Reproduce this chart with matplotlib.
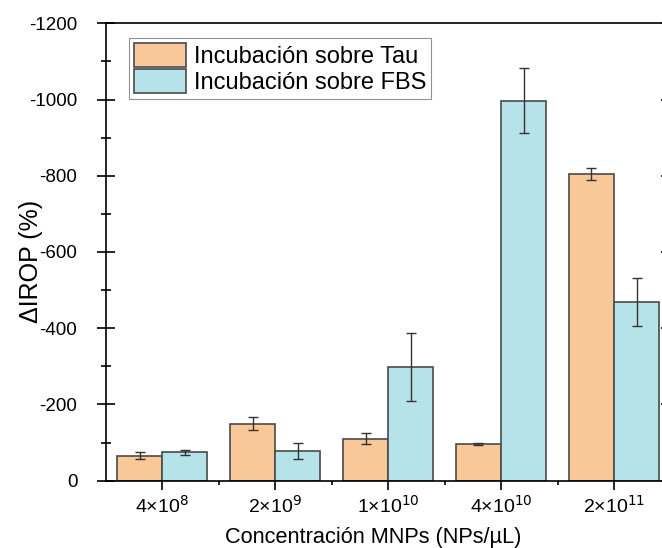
import matplotlib
matplotlib.use("Agg")
import matplotlib.pyplot as plt
import numpy as np
from matplotlib.ticker import MultipleLocator, FixedLocator

plt.rcParams['font.family'] = ['Liberation Sans', 'DejaVu Sans']
plt.rcParams['axes.unicode_minus'] = False

categories = ["4×10$^{8}$", "2×10$^{9}$", "1×10$^{10}$", "4×10$^{10}$", "2×10$^{11}$"]
tau_values = [-66, -150, -110, -97, -804]
tau_errors = [10, 16, 14, 3, 16]
fbs_values = [-74, -78, -298, -997, -470]
fbs_errors = [7, 21, 89, 85, 63]

series_labels = ["Incubación sobre Tau", "Incubación sobre FBS"]
colors = ["#F9C898", "#B6E3E9"]
edge = "#4a4a4a"

fig = plt.figure(figsize=(6.62, 5.48), dpi=100)
ax = fig.add_axes([0.1598, 0.1228, 0.8530, 0.8347])

x = np.arange(len(categories))
w = 0.4
ekw = dict(ecolor="#333333", elinewidth=1.0, capthick=1.0, capsize=3.3)
ax.bar(x - w/2, tau_values, w, yerr=tau_errors, color=colors[0], edgecolor=edge,
       linewidth=1.2, label=series_labels[0], error_kw=ekw, zorder=2)
ax.bar(x + w/2, fbs_values, w, yerr=fbs_errors, color=colors[1], edgecolor=edge,
       linewidth=1.2, label=series_labels[1], error_kw=ekw, zorder=2)

ax.set_xlim(-0.5, len(categories) - 0.5)
ax.set_ylim(0, -1200)
ax.yaxis.set_major_locator(MultipleLocator(200))
ax.yaxis.set_minor_locator(MultipleLocator(100))
ax.set_xticks(x)
ax.set_xticklabels(categories)
ax.xaxis.set_minor_locator(FixedLocator(x[:-1] + 0.5))

for s in ax.spines.values():
    s.set_linewidth(1.2)
    s.set_color("black")

ax.tick_params(axis='y', which='major', direction='inout', length=13, width=1.2,
               labelsize=13.5, right=True, pad=14)
ax.tick_params(axis='y', which='minor', direction='inout', length=7, width=1.2, right=True)
ax.tick_params(axis='x', which='major', direction='out', length=6.5, width=1.2,
               labelsize=14, pad=4)
ax.tick_params(axis='x', which='minor', direction='out', length=3, width=1.2)

ax.set_xlabel("Concentración MNPs (NPs/µL)", fontsize=15.7)
ax.xaxis.set_label_coords(0.473, -0.102)
ax.set_ylabel("ΔIROP (%)", fontsize=18)
ax.yaxis.set_label_coords(-0.112, 0.48)

leg = ax.legend(loc='upper left', bbox_to_anchor=(0.041, 0.968), borderaxespad=0,
                fontsize=17, handlelength=2.2, handleheight=1.2, labelspacing=0.05,
                borderpad=0.2, handletextpad=0.35, fancybox=False, frameon=True)
leg.get_frame().set_edgecolor("#777777")
leg.get_frame().set_linewidth(0.8)

fig.savefig("out.png", dpi=100)
